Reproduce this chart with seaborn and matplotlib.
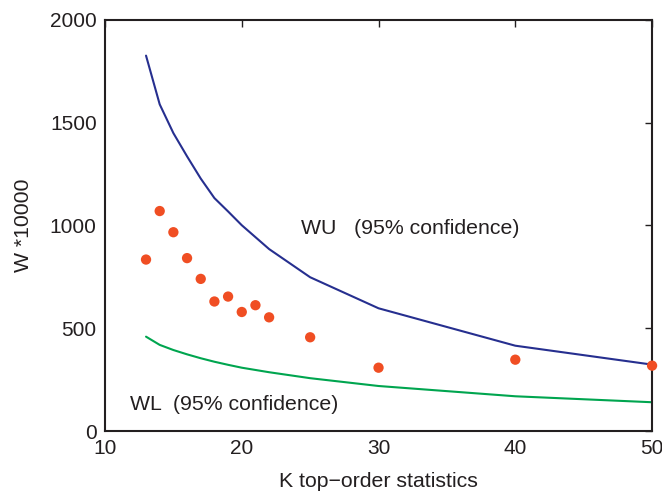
import pandas as pd
import matplotlib
matplotlib.use("Agg")
import matplotlib.pyplot as plt
import seaborn as sns

# --- Data ---
k_points = [13, 14, 15, 16, 17, 18, 19, 20, 21, 22, 25, 30, 40, 50]
w_points = [834, 1070, 967, 841, 740, 630, 654, 579, 612, 553, 456, 308, 347, 318]

k_bounds = [13, 14, 15, 16, 17, 18, 19, 20, 22, 25, 30, 40, 50]
wu = [1826, 1589, 1449, 1336, 1228, 1133, 1068, 1001, 885, 748, 597, 415, 323]
wl = [459, 419, 394, 373, 354, 337, 322, 308, 286, 257, 219, 169, 140]

x_ticks = [10, 20, 30, 40, 50]
y_ticks = [0, 500, 1000, 1500, 2000]

pts = pd.DataFrame({"K": k_points, "W": w_points})
bounds = pd.DataFrame({"K": k_bounds, "WU": wu, "WL": wl})

# --- Style ---
sns.set_style("white")
plt.rcParams["font.family"] = ["Liberation Sans", "DejaVu Sans"]

fig = plt.figure(figsize=(6.62, 4.96), dpi=100)
ax = fig.add_axes([0.1586, 0.131, 0.8264, 0.829])

sns.lineplot(data=bounds, x="K", y="WU", ax=ax, color="#262f8f", linewidth=1.5)
sns.lineplot(data=bounds, x="K", y="WL", ax=ax, color="#00a54f", linewidth=1.5)
sns.scatterplot(data=pts, x="K", y="W", ax=ax, color="#f04e23", s=55,
                edgecolor="none", zorder=3, clip_on=False)

ax.set_xlim(10, 50)
ax.set_ylim(0, 2000)
ax.set_xticks(x_ticks)
ax.set_yticks(y_ticks)
ax.tick_params(direction="in", length=5, width=1, labelsize=15, colors="#231f20",
               top=True, right=True, pad=6)
for s in ax.spines.values():
    s.set_color("#231f20")
    s.set_linewidth(1.5)

ax.set_xlabel("K top\u2212order statistics", fontsize=15.3, color="#231f20", labelpad=10)
ax.set_ylabel("W *10000", fontsize=15.3, color="#231f20", labelpad=12)

ax.text(24.3, 983, "WU   (95% confidence)", fontsize=15.3, color="#231f20", va="center")
ax.text(11.8, 131, "WL  (95% confidence)", fontsize=15.3, color="#231f20", va="center")

plt.savefig("out.png", dpi=100)
